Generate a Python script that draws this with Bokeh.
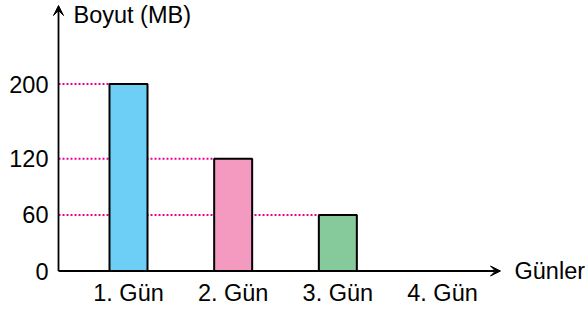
from bokeh.plotting import figure
from bokeh.models import Range1d, Arrow, VeeHead, ColumnDataSource
from bokeh.core.properties import value
from bokeh.embed import file_html
from bokeh.resources import INLINE

# ---- data ----
days = ["1. Gün", "2. Gün", "3. Gün", "4. Gün"]
sizes = [200, 120, 60]
bar_colors = ["#6dcff6", "#f49ac1", "#86c99b"]
y_ticks = [0, 60, 120, 200]
y_title = "Boyut (MB)"
x_title = "Günler"

# ---- layout constants (pixels) ----
W, H = 585, 314
SX = 104.67          # px per category step
SY = 0.935           # px per MB
X0_PX = 128          # pixel of first category center
BASE_PX = 270.5      # pixel (from top) of y = 0

def xd(px):
    return 1 + (px - X0_PX) / SX

def yd(px_from_top):
    return (BASE_PX - px_from_top) / SY

FONT = value("Liberation Sans")
FS = "23.5px"

p = figure(width=W, height=H, output_backend="svg", toolbar_location=None,
           x_range=Range1d(xd(0), xd(W)), y_range=Range1d(yd(H), yd(0)),
           min_border=0, min_border_left=0, min_border_right=0,
           min_border_top=0, min_border_bottom=0)
p.axis.visible = False
p.grid.visible = False
p.outline_line_color = None
p.background_fill_color = "white"

positions = [i + 1 for i in range(len(days))]
bar_w = 38 / SX
axis_x = xd(58)

# dotted guide lines from y axis to bar left edges
p.segment(x0=[axis_x] * len(sizes), y0=sizes,
          x1=[positions[i] - bar_w / 2 for i in range(len(sizes))], y1=sizes,
          line_color="#ec008c", line_width=2, line_dash="2 2")

# bars
src = ColumnDataSource(dict(x=positions[:len(sizes)], top=sizes, color=bar_colors))
p.vbar(x="x", top="top", bottom=0, width=bar_w, source=src,
       fill_color="color", line_color="black", line_width=2)

# axes with arrows
p.add_layout(Arrow(x_start=axis_x, y_start=0, x_end=axis_x, y_end=yd(5),
                   line_color="black", line_width=1.8,
                   end=VeeHead(size=10, fill_color="black", line_color="black", line_width=1)))
p.add_layout(Arrow(x_start=axis_x, y_start=0, x_end=xd(500), y_end=0,
                   line_color="black", line_width=1.8,
                   end=VeeHead(size=10, fill_color="black", line_color="black", line_width=1)))

# y tick labels
p.text(x=[xd(48)] * len(y_ticks), y=y_ticks, text=[str(t) for t in y_ticks],
       text_align="right", text_baseline="middle",
       text_font=FONT, text_font_size=FS, text_color="black")

# category labels
p.text(x=positions, y=[yd(292)] * len(days), text=days,
       text_align="center", text_baseline="middle",
       text_font=FONT, text_font_size=FS, text_color="black")

# axis titles
p.text(x=[xd(73)], y=[yd(14)], text=[y_title], text_align="left", text_baseline="middle",
       text_font=FONT, text_font_size=FS, text_color="black")
p.text(x=[xd(514)], y=[0], text=[x_title], text_align="left", text_baseline="middle",
       text_font=FONT, text_font_size=FS, text_color="black")

open("out.html", "w").write(file_html(p, INLINE))
